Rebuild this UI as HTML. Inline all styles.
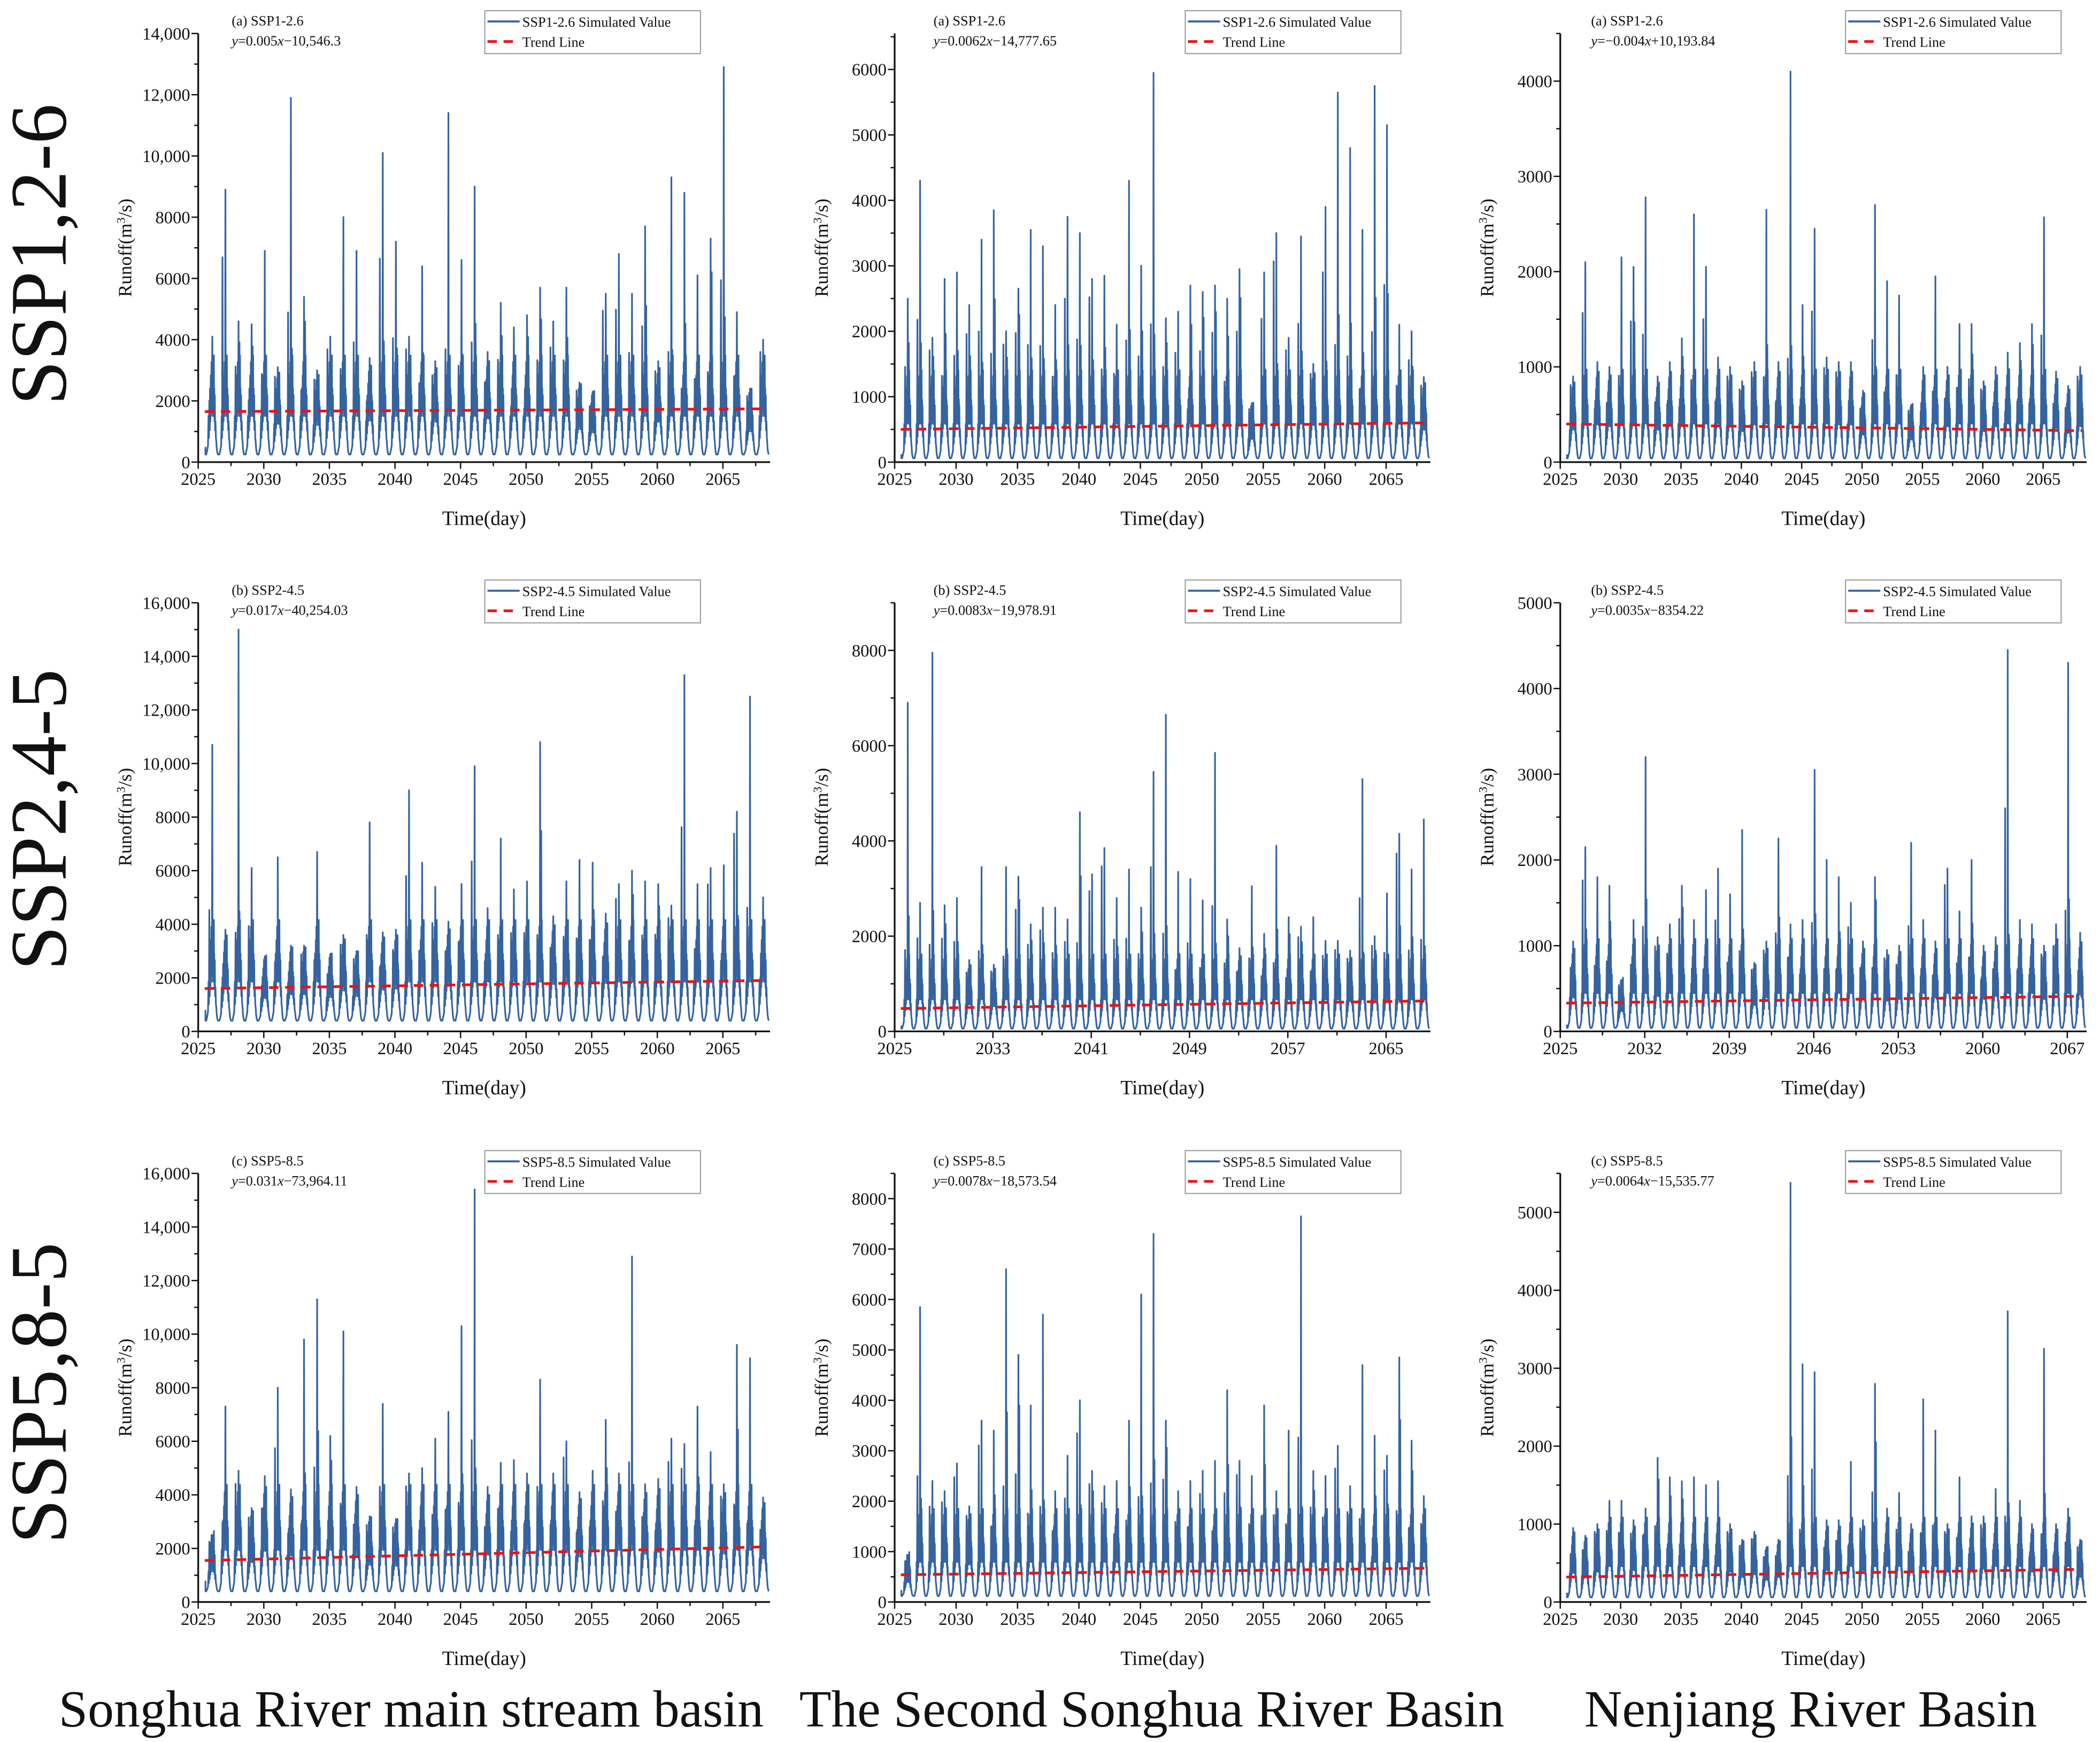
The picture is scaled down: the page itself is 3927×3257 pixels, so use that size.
<!DOCTYPE html>
<html><head><meta charset="utf-8"><style>
html,body{margin:0;padding:0;background:#fff;}
svg{display:block;}
text{font-family:"Liberation Serif",serif;fill:#111;}
</style></head><body>
<svg id="fig" width="3927" height="3257" viewBox="0 0 1568 1300.5" preserveAspectRatio="none" xmlns="http://www.w3.org/2000/svg">
<rect width="1568" height="1300.5" fill="#fff"/>
<g>
<text transform="translate(49,190) rotate(-90)" font-size="60" text-anchor="middle">SSP1,2-6</text>
<text transform="translate(49,612) rotate(-90)" font-size="60" text-anchor="middle">SSP2,4-5</text>
<text transform="translate(49,1040) rotate(-90)" font-size="60" text-anchor="middle">SSP5,8-5</text>
</g>
<g>
<text x="307" y="1289" font-size="39" text-anchor="middle">Songhua River main stream basin</text>
<text x="860" y="1289" font-size="39" text-anchor="middle">The Second Songhua River Basin</text>
<text x="1352" y="1289" font-size="39" text-anchor="middle">Nenjiang River Basin</text>
</g>
</svg>
<script>
// Annual peak runoff values (2026..2068), one per year, per panel
const years = [2026,2027,2028,2029,2030,2031,2032,2033,2034,2035,2036,2037,2038,2039,2040,2041,2042,2043,2044,2045,2046,2047,2048,2049,2050,2051,2052,2053,2054,2055,2056,2057,2058,2059,2060,2061,2062,2063,2064,2065,2066,2067,2068];
const peaksA1 = [4100,8900,4600,4500,6900,3100,11900,5400,3000,4100,8000,6900,3400,10100,7200,4100,6400,3300,11400,6600,9000,3600,5200,4400,4800,5700,4600,5700,2600,2300,5500,6800,5500,7700,3300,9300,8800,6100,7300,12900,4900,2400,4000];
const peaksA2 = [2500,4300,1900,2800,2900,2400,3400,3850,2000,2650,3550,3300,2400,3750,3500,2800,2850,2100,4300,3000,5950,2200,2300,2700,2600,2700,2500,2950,900,2900,3500,1900,3450,1500,3900,5650,4800,3550,5750,5150,2100,2000,1300];
const peaksA3 = [900,2100,1050,1000,2150,2050,2780,900,1050,1300,2600,2050,1100,1000,850,1050,2650,1050,4100,1650,2450,1100,1050,1050,750,2700,1900,1750,600,1000,1950,1000,1450,1450,850,1000,1150,1250,1450,2570,950,800,1000];
const peaksB1 = [10700,3800,15000,6100,2800,6500,3200,3200,6700,2900,3600,3000,7800,3700,3800,9000,6300,5400,4100,5500,9900,4600,7200,5300,5600,10800,4300,5600,6400,6300,4400,5500,6000,5600,5500,4700,13300,5500,6100,6200,8200,12500,5000];
const peaksB2 = [6900,2700,7950,2650,2800,1500,3450,1400,3450,3250,2250,2600,2600,2350,4600,3300,3850,2800,3400,2600,5450,6650,3350,3200,2750,5850,2350,1750,3050,2050,3900,2400,2200,2400,1900,1900,1700,5300,2000,2900,4150,3400,4450];
const peaksB3 = [1050,2150,1800,1700,600,1300,3200,1100,1250,1700,1300,1650,1900,1600,2350,800,1050,2250,1250,1300,3050,2000,1800,1500,1050,1800,950,1000,2200,1300,1050,1900,1400,2000,1000,1100,4450,1300,1250,1000,1250,4300,1150];
const peaksC1 = [2500,7300,4900,3500,4700,8000,4200,9800,11300,6200,10100,4300,3200,7400,3100,4800,5000,6100,7100,10300,15400,4300,5200,5300,4800,8300,4800,6000,4100,4900,6800,4800,12900,4400,4600,6100,5900,7300,5600,4400,9600,9100,3900];
const peaksC2 = [900,5850,2400,2200,2750,1900,3600,3400,6600,4900,3900,5700,2200,2900,4000,2600,2300,2400,3600,6100,7300,3600,2200,2400,2600,2800,4200,2800,2500,3900,2200,3400,7650,2600,2500,3100,2300,4700,3300,2900,4850,3200,2100];
const peaksC3 = [950,850,1000,1300,1300,1050,1200,1850,1600,1550,1600,1500,1550,1000,800,900,700,800,5380,3050,2950,1050,1050,1800,1050,2800,1200,1400,1000,2600,2200,1000,1600,1100,1100,1450,3730,1300,1000,3250,1000,1200,800];
// Winter low flows and typical flood-season level per panel
const lowFlow = [250,60,40, 400,60,40, 400,120,60];
const midFlow = [1600,650,450, 1900,750,500, 2000,850,500];
// Trend line start/end values
const trendStart = [1650,500,400, 1600,480,330, 1550,540,320];
const trendEnd = [1740,600,330, 1900,640,410, 2060,670,420];
// Y-axis maxima and tick values
const yMax = [14000,6550,4500, 16000,9000,5000, 16000,8500,5500];
const yTicksA1=[0,2000,4000,6000,8000,10000,12000,14000], yTicksA2=[0,1000,2000,3000,4000,5000,6000], yTicksA3=[0,1000,2000,3000,4000];
const yTicksB1=[0,2000,4000,6000,8000,10000,12000,14000,16000], yTicksB2=[0,2000,4000,6000,8000], yTicksB3=[0,1000,2000,3000,4000,5000];
const yTicksC1=[0,2000,4000,6000,8000,10000,12000,14000,16000], yTicksC2=[0,1000,2000,3000,4000,5000,6000,7000,8000], yTicksC3=[0,1000,2000,3000,4000,5000];
const xTicks5=[2025,2030,2035,2040,2045,2050,2055,2060,2065], xTicks8=[2025,2033,2041,2049,2057,2065], xTicks7=[2025,2032,2039,2046,2053,2060,2067];
const scen=["SSP1-2.6","SSP1-2.6","SSP1-2.6","SSP2-4.5","SSP2-4.5","SSP2-4.5","SSP5-8.5","SSP5-8.5","SSP5-8.5"];
const tag=["(a)","(a)","(a)","(b)","(b)","(b)","(c)","(c)","(c)"];
const eqs=["0.005x\u221210,546.3","0.0062x\u221214,777.65","\u22120.004x+10,193.84","0.017x\u221240,254.03","0.0083x\u221219,978.91","0.0035x\u22128354.22","0.031x\u221273,964.11","0.0078x\u221218,573.54","0.0064x\u221215,535.77"];
const peaks=[peaksA1,peaksA2,peaksA3,peaksB1,peaksB2,peaksB3,peaksC1,peaksC2,peaksC3];
const yTicks=[yTicksA1,yTicksA2,yTicksA3,yTicksB1,yTicksB2,yTicksB3,yTicksC1,yTicksC2,yTicksC3];
const xTicks=[xTicks5,xTicks5,xTicks5,xTicks5,xTicks8,xTicks7,xTicks5,xTicks5,xTicks5];
// Within-year hydrograph template (fraction of year, weight; 1 = annual peak, -1/-2 = secondary spikes)
const tplT=[0,.06,.12,.2,.24,.27,.3,.33,.35,.38,.41,.44,.46,.48,.5,.52,.54,.56,.58,.6,.62,.64,.66,.68,.7,.72,.74,.77,.8,.83,.86,.9,.95];
const tplW=[0,0,.03,.08,.35,.15,-1,.22,.5,.3,.6,.35,.7,.4,.55,1,.45,.7,.35,-2,.4,.75,.35,.5,.3,.45,.22,.3,.15,.12,.06,.02,0];

const svg=document.getElementById('fig');
const NS='http://www.w3.org/2000/svg';
const cols=[{x0:148,x1:575,lg:213,an:25},{x0:668,x1:1068,lg:183,an:29},{x0:1165,x1:1558,lg:180,an:23}];
const rows=[{t:25,b:345},{t:450,b:770},{t:876,b:1196}];
const X0=2025, X1=2068.6;
function mk(tag,attrs,parent){const e=document.createElementNS(NS,tag);for(const k in attrs)e.setAttribute(k,attrs[k]);parent.appendChild(e);return e;}
function fmt(v){return v>=10000? v.toLocaleString('en-US'):String(v);}
for(let i=0;i<9;i++){
  const c=cols[i%3], r=rows[Math.floor(i/3)];
  const sx=v=>c.x0+(v-X0)/(X1-X0)*(c.x1-c.x0);
  const sy=v=>r.b-v/yMax[i]*(r.b-r.t);
  const g=mk('g',{},svg);
  
  
  let pts=[];
  const P=peaks[i], lo=lowFlow[i], mid=midFlow[i], n=P.length;
  pts.push([2025.55,lo*2]);
  for(let k=0;k<n;k++){
    const yr=years[k]-0.45;
    const cap=Math.min(P[k],mid*2.4);
    for(let j=0;j<tplT.length;j++){
      const w=tplW[j];
      let v;
      if(w>=1) v=P[k];
      else if(w===-1) v=Math.min(0.45*P[(k+5)%n]+0.15*P[k], P[k]*0.9);
      else if(w===-2) v=Math.min(0.4*P[(k+11)%n]+0.2*P[k], P[k]*0.85);
      else v=lo + w*(cap-lo) + (w>0.4? w*mid*0.45:0);
      const t=yr+tplT[j];
      if(t<2025.55||t>2068.5) continue;
      pts.push([t,v]);
    }
  }
  const line=mk('path',{d:'M'+pts.map(p=>sx(p[0]).toFixed(1)+','+sy(p[1]).toFixed(1)).join('L'),fill:'none',stroke:'#3463a0','stroke-width':1.25,'stroke-linejoin':'round'},g);
  
  
  const tr=mk('line',{x1:sx(2025.5),y1:sy(trendStart[i]),x2:sx(2068.2),y2:sy(trendEnd[i]),stroke:'#ee1111','stroke-width':2,'stroke-dasharray':'7,5'},g);
  
  
  const ax=mk('path',{d:`M${c.x0},${r.t}V${r.b}H${c.x1}`,fill:'none',stroke:'#111','stroke-width':1.3},g);
  
  
  const yt=yTicks[i], step=yt[1]-yt[0];
  for(let v=0;v<=yMax[i];v+=step/2){
    const major=(v%step)===0;
    mk('line',{x1:c.x0-(major?5:3),x2:c.x0,y1:sy(v),y2:sy(v),stroke:'#111','stroke-width':1},g);
  }
  yt.forEach(v=>{
    const t=mk('text',{x:c.x0-6,y:sy(v)+4.5,'font-size':13,'text-anchor':'end'},g);
    t.textContent=fmt(v);
    
    
  });
  const xt=xTicks[i], xs=xt[1]-xt[0];
  for(let v=X0;v<=X1;v+=xs/2){
    const major=((v-X0)%xs)===0;
    mk('line',{x1:sx(v),x2:sx(v),y1:r.b,y2:r.b+(major?5:3),stroke:'#111','stroke-width':1},g);
  }
  xt.forEach(v=>{
    const t=mk('text',{x:sx(v),y:r.b+17,'font-size':13,'text-anchor':'middle'},g);
    t.textContent=v;
    
    
  });
  const xtt=mk('text',{x:(c.x0+c.x1)/2,y:r.b+47,'font-size':15,'text-anchor':'middle'},g);
  xtt.textContent='Time(day)';
  
  
  const ytt=mk('text',{transform:`translate(${c.x0-50},${(r.t+r.b)/2}) rotate(-90)`,'font-size':14,'text-anchor':'middle'},g);
  ytt.innerHTML='Runoff(m<tspan baseline-shift="super" font-size="9">3</tspan>/s)';
  
  
  const a1=mk('text',{x:c.x0+c.an,y:r.t-6,'font-size':10.5},g);
  a1.textContent=tag[i]+' '+scen[i];
  
  
  const a2=mk('text',{x:c.x0+c.an,y:r.t+9,'font-size':10.5},g);
  a2.innerHTML='<tspan font-style="italic">y</tspan>='+eqs[i].replace('x','<tspan font-style="italic">x</tspan>');
  
  
  const lx=c.x1-c.lg, ly=r.t-17;
  const lg=mk('g',{},g);
  
  
  mk('rect',{x:lx,y:ly,width:161,height:32,fill:'#fff',stroke:'#999','stroke-width':0.8},lg);
  mk('line',{x1:lx+2,x2:lx+26,y1:ly+8,y2:ly+8,stroke:'#3463a0','stroke-width':1.5},lg);
  mk('line',{x1:lx+2,x2:lx+26,y1:ly+23,y2:ly+23,stroke:'#ee1111','stroke-width':2,'stroke-dasharray':'7,5'},lg);
  const l1=mk('text',{x:lx+28,y:ly+12,'font-size':10.5},lg);
  l1.textContent=scen[i]+' Simulated Value';
  
  
  const l2=mk('text',{x:lx+28,y:ly+27,'font-size':10.5},lg);
  l2.textContent='Trend Line';
  
  
}
</script>
</body></html>
